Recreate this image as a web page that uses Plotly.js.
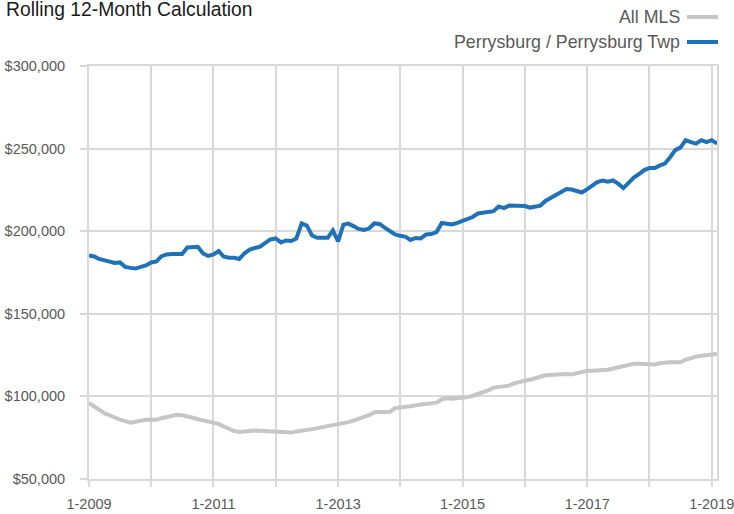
<!DOCTYPE html>
<html>
<head>
<meta charset="utf-8">
<script src="https://cdn.plot.ly/plotly-3.0.1.min.js"></script>
<style>html,body{margin:0;padding:0;background:#fff;}#chart{width:734px;height:514px;}</style>
</head>
<body>
<div id="chart"></div>
<script>
// Monthly series, Jan 2009 .. Feb 2019 (values in $ thousands)
const startYear = 2009, startMonth = 1, monthCount = 122;
const perrysburg = [
185.3,184.7,183.2,182.3,181.7,180.8,181.1,178.4,177.8,177.4,178.4,179.3,
181.1,181.7,184.7,185.9,186.2,186.5,186.2,190.1,190.6,190.6,186.5,185.0,
185.9,188.0,184.7,183.9,183.9,183.2,186.5,188.9,189.8,190.7,192.9,195.0,
195.6,193.2,194.4,194.1,195.6,204.7,203.4,197.4,196.0,196.0,196.0,200.4,
193.8,203.9,204.6,203.1,201.4,200.7,201.6,204.7,204.4,202.2,200.1,198.0,
197.2,196.6,194.7,195.9,195.6,198.0,198.3,199.5,205.0,204.4,204.1,205.0,
206.2,207.5,208.6,210.7,211.1,211.1,212.1,215.0,214.0,215.5,215.5,215.5,
215.2,214.3,214.9,215.5,218.3,220.1,221.6,223.4,225.5,225.2,224.3,223.4,
225.5,227.9,229.7,230.7,230.0,230.7,228.8,226.1,229.4,232.5,234.6,237.0,
238.2,238.3,239.7,240.9,244.6,249.1,250.6,255.1,253.9,253.0,255.1,253.9,
255.1,253.0
];
const allMLS = [
96.0,93.8,91.4,89.8,88.6,87.1,85.9,85.0,84.1,84.7,85.6,85.9,
85.9,85.9,86.8,87.4,88.3,88.9,88.6,88.0,87.1,86.2,85.6,85.0,
84.1,83.2,82.0,80.5,79.0,78.5,78.5,79.0,79.3,79.1,79.0,79.0,
78.8,78.7,78.4,78.1,78.8,79.1,79.4,80.2,80.8,81.4,81.7,82.2,
82.9,83.5,84.4,85.3,86.2,87.1,88.6,90.4,90.6,90.6,90.7,92.9,
93.2,93.3,94.1,94.7,95.0,95.6,95.9,96.2,98.3,98.9,98.6,98.8,
99.0,99.6,100.4,101.3,102.5,103.7,105.3,105.7,105.7,106.5,108.0,108.9,
109.5,110.1,110.7,111.9,112.8,113.1,113.4,113.7,113.5,113.3,114.0,115.2,
115.5,115.5,115.5,115.7,116.1,116.9,117.7,118.6,119.6,119.8,119.8,119.6,
119.3,119.3,120.1,120.6,120.6,120.6,120.6,122.2,123.4,124.1,124.6,124.9,
125.2,125.7
];
const tickYears = [2009,2010,2011,2012,2013,2014,2015,2016,2017,2018,2019];
const tickLabels = ['1-2009','','1-2011','','1-2013','','1-2015','','1-2017','','1-2019'];
const seriesNames = ['All MLS', 'Perrysburg / Perrysburg Twp'];
const chartTitle = 'Rolling 12-Month Calculation';

const months = [];
for (let i = 0; i < monthCount; i++) {
  const m = startMonth - 1 + i;
  const y = startYear + Math.floor(m / 12);
  const mm = (m % 12) + 1;
  months.push(y + '-' + String(mm).padStart(2, '0') + '-01');
}
const tickVals = tickYears.map(y => y + '-01-01');

const FONT = '"Liberation Sans", Arial, sans-serif';
const GRAY = '#c6c6c6', BLUE = '#1f72b8', GRID = '#d9d9d9', TXT = '#595959';

const traces = [
  {x: months, y: allMLS.map(v => v * 1000), name: seriesNames[0], type: 'scatter', mode: 'lines',
   line: {color: GRAY, width: 4}},
  {x: months, y: perrysburg.map(v => v * 1000), name: seriesNames[1], type: 'scatter', mode: 'lines',
   line: {color: BLUE, width: 4}}
];

const layout = {
  width: 734, height: 514,
  margin: {l: 89, r: 17, t: 66, b: 35},
  paper_bgcolor: '#fff', plot_bgcolor: '#fff',
  showlegend: false,
  font: {family: FONT, color: TXT, size: 14},
  xaxis: {
    type: 'date', range: ['2009-01-01', '2019-02-01'],
    tickmode: 'array', tickvals: tickVals, ticktext: tickLabels,
    showgrid: true, gridcolor: GRID, gridwidth: 2,
    showline: true, linecolor: GRID, linewidth: 2, mirror: true,
    ticks: 'outside', ticklen: 6, tickwidth: 2, tickcolor: GRID,
    tickfont: {family: FONT, size: 14.5, color: TXT},
    ticklabelstandoff: 5, ticklabeloverflow: 'allow',
    zeroline: false
  },
  yaxis: {
    range: [50000, 300000], tickmode: 'linear', tick0: 50000, dtick: 50000,
    tickformat: '$,.0f',
    showgrid: true, gridcolor: GRID, gridwidth: 2,
    showline: true, linecolor: GRID, linewidth: 2, mirror: true,
    ticks: 'outside', ticklen: 7, tickwidth: 2, tickcolor: GRID,
    tickfont: {family: FONT, size: 14.5, color: TXT},
    ticklabelstandoff: 12, ticklabeloverflow: 'allow',
    zeroline: false
  },
  annotations: [
    {xref: 'paper', yref: 'paper', x: -85/628, y: 1 + (66-10)/413, xanchor: 'left', yanchor: 'middle',
     text: chartTitle, showarrow: false, font: {family: FONT, size: 19.3, color: '#1a1a1a'}},
    {xref: 'paper', yref: 'paper', x: (682-89)/628, y: 1 + (66-17)/413, xanchor: 'right', yanchor: 'middle',
     text: seriesNames[0], showarrow: false, font: {family: FONT, size: 17.8, color: TXT}},
    {xref: 'paper', yref: 'paper', x: (682-89)/628, y: 1 + (66-42)/413, xanchor: 'right', yanchor: 'middle',
     text: seriesNames[1], showarrow: false, font: {family: FONT, size: 17.8, color: TXT}}
  ],
  shapes: [
    {type: 'line', xref: 'paper', yref: 'paper', x0: (687-89)/628, x1: (718-89)/628,
     y0: 1 + (66-17)/413, y1: 1 + (66-17)/413, line: {color: GRAY, width: 4}},
    {type: 'line', xref: 'paper', yref: 'paper', x0: (687-89)/628, x1: (718-89)/628,
     y0: 1 + (66-42)/413, y1: 1 + (66-42)/413, line: {color: BLUE, width: 4}}
  ]
};

Plotly.newPlot('chart', traces, layout, {displayModeBar: false, staticPlot: true});
</script>
</body>
</html>
